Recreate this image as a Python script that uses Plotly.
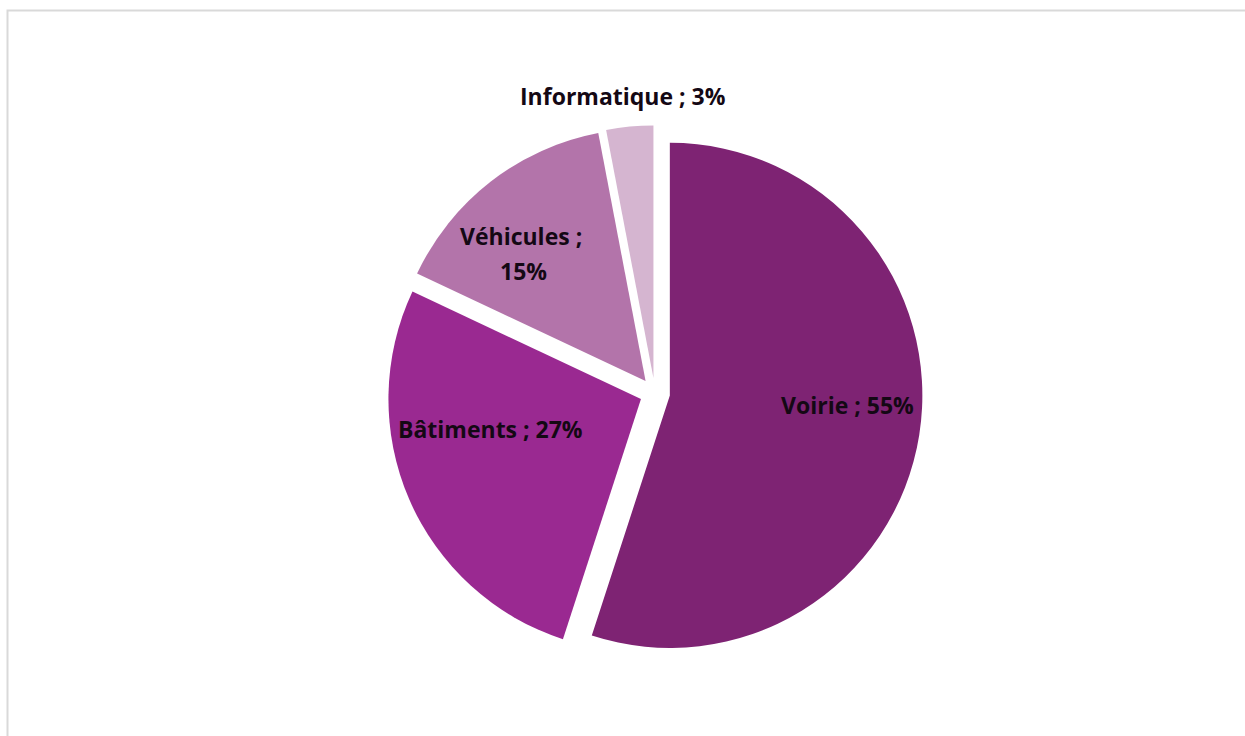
import plotly.graph_objects as go

# Répartition des investissements par poste
postes = ["Voirie", "Bâtiments", "Véhicules", "Informatique"]
parts = [55, 27, 15, 3]
couleurs = ["#7e2373", "#9a2991", "#b374aa", "#d5b5d0"]

# emplacement des étiquettes (pixels), une liste de lignes par poste
lignes_etiquettes = [
    [("Voirie ; {p}%", 847, 405)],
    [("Bâtiments ; {p}%", 490, 429)],
    [("Véhicules ;", 521, 236), ("{p}%", 523, 271)],
    [("Informatique ; {p}%", 623, 96)],
]

W, H = 1245, 736

fig = go.Figure(
    go.Pie(
        labels=postes,
        values=parts,
        textinfo="none",
        sort=False,
        direction="clockwise",
        rotation=0,
        pull=0.06,
        marker=dict(colors=couleurs, line=dict(width=0)),
        domain=dict(x=[0.311, 0.741], y=[0.102, 0.830]),
        showlegend=False,
        hoverinfo="label+percent",
    )
)

for poste, part, lignes in zip(postes, parts, lignes_etiquettes):
    for modele, px, py in lignes:
        fig.add_annotation(
            text=modele.format(p=part),
            xref="paper", yref="paper",
            x=px / W, y=1 - py / H,
            xanchor="center", yanchor="middle",
            showarrow=False,
            font=dict(family="Open Sans", size=23, color="#140814", weight="bold"),
        )

# cadre gris clair autour de la zone du graphique
fig.add_shape(
    type="rect", xref="paper", yref="paper",
    x0=7.5 / W, x1=1.01, y0=-0.01, y1=1 - 10.5 / H,
    line=dict(color="#d9d9d9", width=2), fillcolor="rgba(0,0,0,0)",
)

fig.update_layout(
    width=W, height=H,
    margin=dict(l=0, r=0, t=0, b=0),
    paper_bgcolor="white",
    plot_bgcolor="white",
)

fig.write_html("out.html")
